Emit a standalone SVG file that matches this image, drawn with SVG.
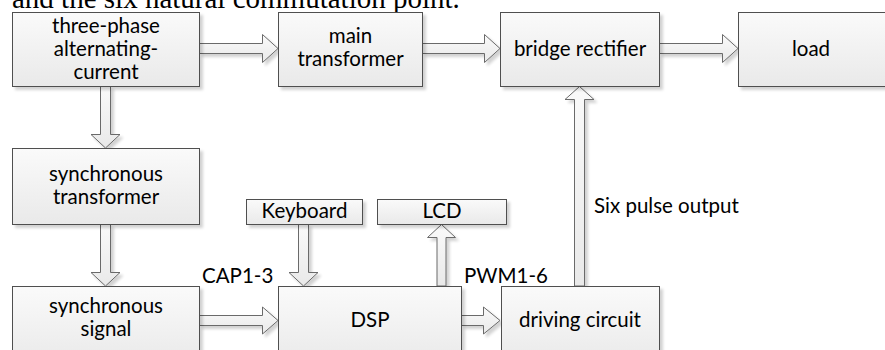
<svg xmlns="http://www.w3.org/2000/svg" width="885" height="350" viewBox="0 0 885 350">
<defs>
<linearGradient id="g" x1="0" y1="0" x2="0" y2="1">
<stop offset="0" stop-color="#fafafa"/>
<stop offset="1" stop-color="#e9e9e9"/>
</linearGradient>
<filter id="sh" x="-10%" y="-10%" width="130%" height="140%">
<feGaussianBlur in="SourceAlpha" stdDeviation="1.5"/>
<feOffset dx="3" dy="3" result="b"/>
<feComponentTransfer><feFuncA type="linear" slope="0.18"/></feComponentTransfer>
<feMerge><feMergeNode/><feMergeNode in="SourceGraphic"/></feMerge>
</filter>
</defs>
<style>
.box{fill:url(#g);stroke:#505050;stroke-width:1;filter:url(#sh)}
.arr{fill:url(#g);stroke:#6a6a6a;stroke-width:1;stroke-linejoin:miter;filter:url(#sh)}
text{font-family:Lato,"Liberation Sans",sans-serif;font-size:20.5px;fill:#000}
.c{text-anchor:middle}
.cap{font-family:"Liberation Serif","Times New Roman",serif;font-size:29px}
</style>
<rect width="885" height="350" fill="#fff"/>
<text class="cap" x="12" y="8">and the six natural commutation point.</text>
<g id="connectors">
<path class="arr" d="M199.5,43.5 H262.5 V34.5 L278,48.5 L262.5,62.5 V53.5 H199.5 Z"/>
<path class="arr" d="M422.5,43.5 H484.5 V34.5 L500,48.5 L484.5,62.5 V53.5 H422.5 Z"/>
<path class="arr" d="M659.5,43.5 H722.5 V34.5 L738,48.5 L722.5,62.5 V53.5 H659.5 Z"/>
<path class="arr" d="M100.5,86.5 V134.5 H91 L105.5,148 L120,134.5 H110.5 V86.5 Z"/>
<path class="arr" d="M100.5,224.5 V272.5 H91 L105.5,286 L120,272.5 H110.5 V224.5 Z"/>
<path class="arr" d="M298.5,224.5 V272.5 H289 L303.5,286 L318,272.5 H308.5 V224.5 Z"/>
<path class="arr" d="M437,286 V237.5 H427.5 L441.5,224.5 L455.5,237.5 H446 V286 Z"/>
<path class="arr" d="M574.5,286 V99.5 H565 L579.5,86.5 L594,99.5 H584.5 V286 Z"/>
<path class="arr" d="M199.5,315.5 H262.5 V307 L278,320.5 L262.5,334 V325.5 H199.5 Z"/>
<path class="arr" d="M461.5,315.5 H483.5 V307 L500,320.5 L483.5,334 V325.5 H461.5 Z"/>
</g>
<g id="three-phase">
<rect class="box" x="12.5" y="12.5" width="187" height="74"/>
<text class="c" x="106" y="33">three-phase</text>
<text class="c" x="106" y="56">alternating-</text>
<text class="c" x="106" y="79">current</text>
</g>
<g id="main-transformer">
<rect class="box" x="278.5" y="12.5" width="144" height="74"/>
<text class="c" x="350.5" y="43">main</text>
<text class="c" x="350.5" y="66">transformer</text>
</g>
<g id="bridge-rectifier">
<rect class="box" x="500.5" y="12.5" width="159" height="74"/>
<text class="c" x="580" y="56">bridge rectifier</text>
</g>
<g id="load">
<rect class="box" x="738.5" y="12.5" width="160" height="74"/>
<text class="c" x="811" y="56">load</text>
</g>
<g id="sync-transformer">
<rect class="box" x="12.5" y="148.5" width="187" height="76"/>
<text class="c" x="106" y="181">synchronous</text>
<text class="c" x="106" y="204">transformer</text>
</g>
<g id="sync-signal">
<rect class="box" x="12.5" y="286.5" width="187" height="80"/>
<text class="c" x="106" y="313">synchronous</text>
<text class="c" x="106" y="336">signal</text>
</g>
<g id="keyboard">
<rect class="box" x="246.5" y="199.5" width="116" height="25"/>
<text class="c" x="304.5" y="218">Keyboard</text>
</g>
<g id="lcd">
<rect class="box" x="377.5" y="199.5" width="129" height="25"/>
<text class="c" x="442" y="218">LCD</text>
</g>
<g id="dsp">
<rect class="box" x="278.5" y="286.5" width="183" height="80"/>
<text class="c" x="370" y="327">DSP</text>
</g>
<g id="driving-circuit">
<rect class="box" x="501.5" y="286.5" width="158" height="80"/>
<text class="c" x="580" y="327">driving circuit</text>
</g>
<text x="202" y="283">CAP1-3</text>
<text x="464" y="283">PWM1-6</text>
<text x="594" y="213">Six pulse output</text>
</svg>
